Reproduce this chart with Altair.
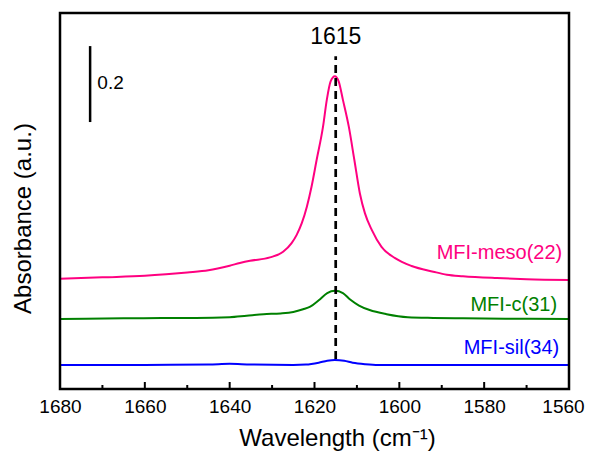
import altair as alt
import pandas as pd

# ---- data ----
meso_x = [1680, 1670, 1660, 1655, 1650, 1645, 1640, 1637.6, 1635.2, 1630.5, 1627.4, 1625.4, 1624.2,
          1623.0, 1621.8, 1620.7, 1619.5, 1618, 1617.1, 1616.2, 1615.2, 1614.3, 1613.3, 1611.9,
          1610.6, 1609.3, 1608.1, 1606.5, 1604.2, 1601, 1597.1, 1592, 1588.8, 1585, 1577, 1570, 1560]
meso_y = [0.293, 0.297, 0.301, 0.305, 0.310, 0.316, 0.328, 0.335, 0.341, 0.350, 0.365, 0.388, 0.410,
          0.441, 0.485, 0.538, 0.609, 0.697, 0.769, 0.818, 0.832, 0.818, 0.769, 0.697,
          0.609, 0.520, 0.467, 0.423, 0.378, 0.348, 0.327, 0.312, 0.304, 0.300, 0.295, 0.292, 0.290]

c_x = [1680, 1665, 1656, 1648, 1640, 1636, 1632, 1628, 1625, 1622.7, 1621, 1619, 1617, 1615.2,
       1613.3, 1611.6, 1609.5, 1607, 1603, 1598, 1592, 1585, 1575, 1560]
c_y = [0.186, 0.188, 0.189, 0.189, 0.191, 0.195, 0.199, 0.201, 0.205, 0.212, 0.219, 0.236, 0.255, 0.261,
       0.255, 0.238, 0.222, 0.210, 0.199, 0.191, 0.189, 0.188, 0.187, 0.186]

sil_x = [1680, 1660, 1645, 1640, 1635, 1625, 1622, 1619, 1617, 1615.2, 1613, 1611, 1608, 1605, 1590, 1560]
sil_y = [0.064, 0.064, 0.065, 0.067, 0.065, 0.064, 0.065, 0.070, 0.075, 0.077, 0.075, 0.070, 0.066, 0.064, 0.064, 0.064]

series_names = ["MFI-meso(22)", "MFI-c(31)", "MFI-sil(34)"]
series_colors = ["#FF0080", "#008000", "#0000FF"]

major_ticks = [1680, 1660, 1640, 1620, 1600, 1580, 1560]
minor_ticks = [1670, 1650, 1630, 1610, 1590, 1570]
peak_position = 1615

rows = []
for name, xs, ys in zip(series_names, [meso_x, c_x, sil_x], [meso_y, c_y, sil_y]):
    for xv, yv in zip(xs, ys):
        rows.append({"series": name, "wn": xv, "abs": yv})
df = pd.DataFrame(rows)

W, H = 509, 376
FONT = "Liberation Sans"

xscale = alt.Scale(domain=[1560, 1680], reverse=True, nice=False, zero=False)
yscale = alt.Scale(domain=[0, 1], nice=False, zero=False)
color_scale = alt.Scale(domain=series_names, range=series_colors)

lines = alt.Chart(df).mark_line(strokeWidth=2, interpolate="monotone").encode(
    x=alt.X("wn:Q", scale=xscale,
            axis=alt.Axis(title="Wavelength (cm\u207b\u00b9)", values=major_ticks, format="d",
                          ticks=False, domain=False, grid=False, labelFlush=False,
                          labelOffset={"condition": {"test": "datum.value == 1560", "value": -6},
                                       "value": 0},
                          labelFont=FONT, labelFontSize=19,
                          labelColor="black", labelPadding=8, titleFont=FONT, titleFontSize=24,
                          titleFontWeight="normal", titleColor="black", titlePadding=10,
                          titleX=277)),
    y=alt.Y("abs:Q", scale=yscale,
            axis=alt.Axis(title="Absorbance (a.u.)", labels=False, ticks=False, domain=False,
                          grid=False, titleFont=FONT, titleFontSize=24, titleFontWeight="normal",
                          titleColor="black", titlePadding=25, titleY=205)),
    color=alt.Color("series:N", scale=color_scale, legend=None),
    detail="series:N",
)

peak_df = pd.DataFrame({"wn": [peak_position]})
dashed = alt.Chart(peak_df).mark_rule(color="black", strokeWidth=2.7, strokeDash=[8, 5]).encode(
    x=alt.X("wn:Q", scale=xscale),
    y=alt.datum(0.08, scale=yscale),
    y2=alt.datum(0.885),
)
peak_text = alt.Chart(peak_df).mark_text(font=FONT, fontSize=23, color="black", baseline="middle").encode(
    x=alt.X("wn:Q", scale=xscale),
    y=alt.datum(0.937, scale=yscale),
    text=alt.value(str(peak_position)),
)

major_df = pd.DataFrame({"wn": major_ticks})
minor_df = pd.DataFrame({"wn": minor_ticks})
major_rules = alt.Chart(major_df).mark_rule(color="black", strokeWidth=2).encode(
    x=alt.X("wn:Q", scale=xscale), y=alt.value(H), y2=alt.value(H - 7))
minor_rules = alt.Chart(minor_df).mark_rule(color="black", strokeWidth=2).encode(
    x=alt.X("wn:Q", scale=xscale), y=alt.value(H), y2=alt.value(H - 4))

frame = alt.Chart(peak_df).mark_rect(fillOpacity=0, stroke="black", strokeWidth=2.5).encode(
    x=alt.value(0), x2=alt.value(W), y=alt.value(0), y2=alt.value(H))

scale_bar = alt.Chart(peak_df).mark_rule(color="black", strokeWidth=2.5).encode(
    x=alt.datum(1672.9, scale=xscale),
    y=alt.datum(0.71, scale=yscale),
    y2=alt.datum(0.912),
)
scale_text = alt.Chart(peak_df).mark_text(font=FONT, fontSize=19, color="black", align="left",
                                          baseline="middle").encode(
    x=alt.datum(1671.2, scale=xscale),
    y=alt.datum(0.814, scale=yscale),
    text=alt.value("0.2"),
)

label_df = pd.DataFrame({"series": series_names, "lx": [1561.6, 1562.8, 1562.3],
                         "ly": [0.362, 0.223, 0.109]})
labels = alt.Chart(label_df).mark_text(font=FONT, fontSize=20, align="right", baseline="middle").encode(
    x=alt.X("lx:Q", scale=xscale),
    y=alt.Y("ly:Q", scale=yscale),
    text="series:N",
    color=alt.Color("series:N", scale=color_scale, legend=None),
)

chart = alt.layer(lines, dashed, peak_text, major_rules, minor_rules, frame, scale_bar, scale_text,
                  labels).properties(
    width=W, height=H,
    autosize=alt.AutoSizeParams(type="none"),
    padding={"left": 52, "top": 5, "right": 16, "bottom": 62},
).configure(background="white").configure_view(stroke=None)

chart.save("out.html", embed_options={"renderer": "svg", "actions": False})
